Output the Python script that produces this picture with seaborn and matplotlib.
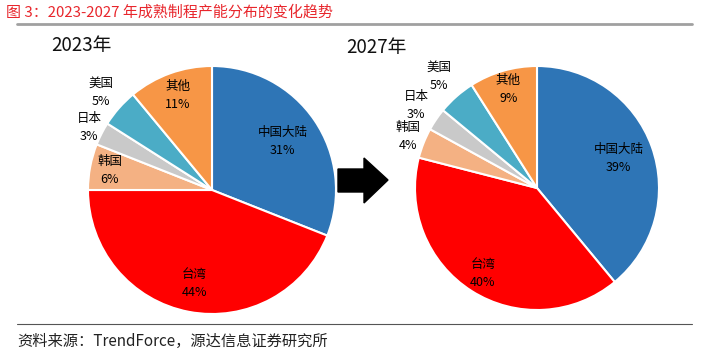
import numpy as np
import matplotlib
matplotlib.use('Agg')
import matplotlib.pyplot as plt
import seaborn as sns
from matplotlib.patches import Polygon
from matplotlib.lines import Line2D

sns.set_style('white')
plt.rcParams['font.family'] = ['Noto Sans CJK SC', 'DejaVu Sans']

# data
regions = ['中国大陆', '台湾', '韩国', '日本', '美国', '其他']
share_2023 = [31, 44, 6, 3, 5, 11]
share_2027 = [39, 40, 4, 3, 5, 9]
colors = ['#2E75B6', '#FF0000', '#F4B183', '#C9C9C9', '#4BACC6', '#F79646']

W, H = 709, 353
fig = plt.figure(figsize=(W / 100, H / 100), dpi=100)

# overlay axes in pixel coordinates for decorations
ov = fig.add_axes([0, 0, 1, 1])
ov.set_xlim(0, W)
ov.set_ylim(H, 0)
ov.axis('off')

ov.text(6, 12, '图 3：2023-2027 年成熟制程产能分布的变化趋势', color='#E8262C',
        fontsize=10.8, va='center', ha='left')
ov.add_line(Line2D([17, 692], [24, 24], color='#A0A0A0', lw=2))
ov.add_line(Line2D([17, 692], [324, 324], color='#555555', lw=0.8))
ov.text(17, 341, '资料来源：TrendForce，源达信息证券研究所', color='#222222',
        fontsize=11, va='center', ha='left')

ov.text(51, 45, '2023年', fontsize=13.5, va='center', ha='left', color='#111111')
ov.text(346, 47, '2027年', fontsize=13.5, va='center', ha='left', color='#111111')

# arrow
arrow = Polygon([[338, 169], [364, 169], [364, 158], [388, 180],
                 [364, 203], [364, 192], [338, 192]], closed=True,
                facecolor='black', edgecolor='black')
ov.add_patch(arrow)


def draw_pie(cx, cy, r, values, label_r):
    ax = fig.add_axes([(cx - r) / W, (H - cy - r) / H, 2 * r / W, 2 * r / H])
    wedges, _ = ax.pie(values, colors=colors, startangle=90, counterclock=False,
                       wedgeprops=dict(edgecolor='white', linewidth=1.5))
    ax.set_xlim(-1, 1)
    ax.set_ylim(-1, 1)
    ax.set_aspect('equal')
    for w, name, v, lr in zip(wedges, regions, values, label_r):
        ang = np.deg2rad((w.theta1 + w.theta2) / 2)
        x, y = lr * np.cos(ang), lr * np.sin(ang)
        ax.text(x, y, f'{name}\n{v}%', ha='center', va='center', fontsize=9,
                color='#000000', fontweight='medium', linespacing=1.5,
                clip_on=False)
    return ax


draw_pie(212, 190, 124, share_2023, [0.69, 0.77, 0.84, 1.11, 1.19, 0.81])
draw_pie(537, 188, 122, share_2027, [0.71, 0.83, 1.14, 1.2, 1.22, 0.84])

fig.savefig('out.png', dpi=100)
